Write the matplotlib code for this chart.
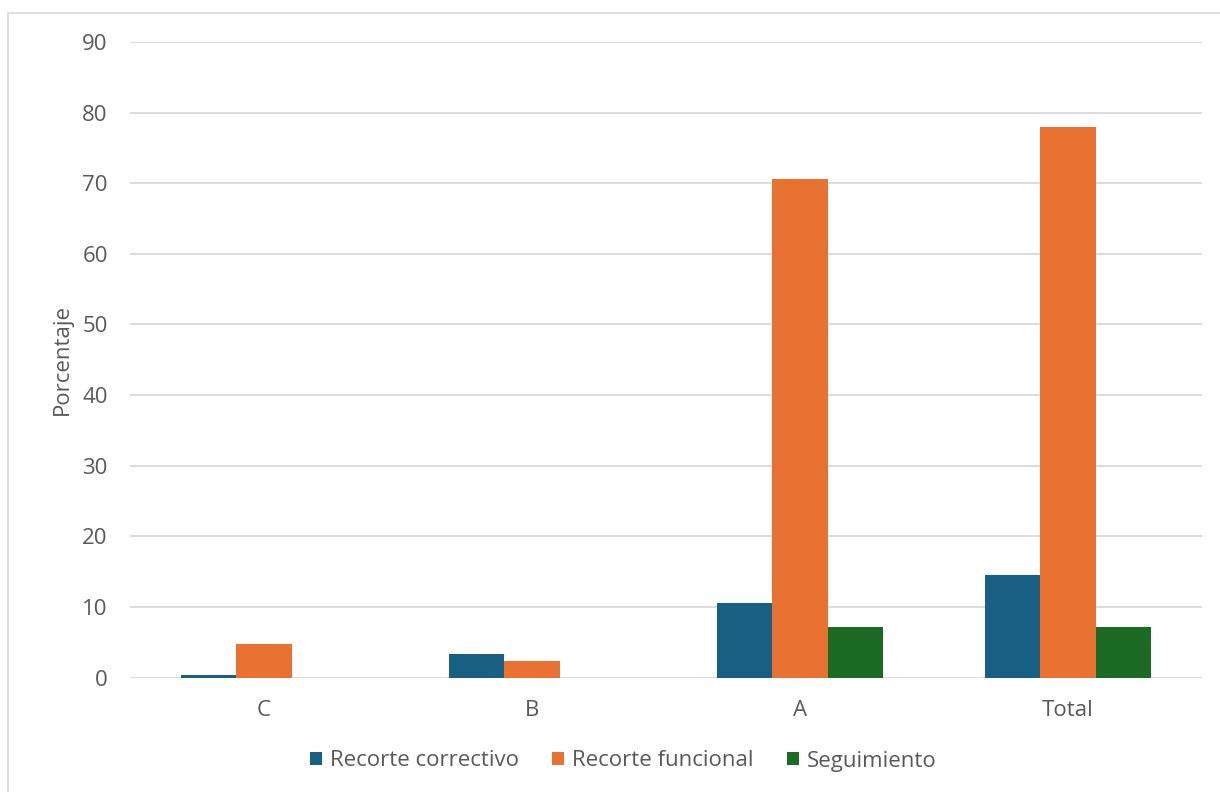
import numpy as np
import matplotlib
matplotlib.use('Agg')
import matplotlib.pyplot as plt
from matplotlib.patches import Rectangle, Patch

categories = ['C', 'B', 'A', 'Total']
correctivo = [0.3, 3.3, 10.6, 14.5]
funcional = [4.8, 2.3, 70.6, 78.0]
seguimiento = [0.0, 0.0, 7.2, 7.2]
series_names = ['Recorte correctivo', 'Recorte funcional', 'Seguimiento']
colors = ['#176084', '#E97132', '#1B6B24']

plt.rcParams['font.family'] = ['Open Sans', 'DejaVu Sans']
txt = '#595959'
fs = 16

W, H = 1220, 792
fig = plt.figure(figsize=(W / 100, H / 100), dpi=100)
ax = fig.add_axes([130 / W, (H - 677.5) / H, 1072 / W, (677.5 - 42) / H])

x = np.arange(len(categories))
bw = 0.207
for i, (vals, c) in enumerate(zip([correctivo, funcional, seguimiento], colors)):
    ax.bar(x + (i - 1) * bw, vals, width=bw, color=c, zorder=3)

ax.set_xlim(-0.5, len(categories) - 0.5)
ax.set_ylim(0, 90)
ax.set_yticks(np.arange(0, 91, 10))
ax.set_xticks(x)
ax.set_xticklabels(categories)
ax.grid(axis='y', color='#D9D9D9', linewidth=1.3, zorder=0)
for s in ax.spines.values():
    s.set_visible(False)
ax.tick_params(length=0, labelsize=fs, colors=txt)
ax.tick_params(axis='y', pad=16)
ax.tick_params(axis='x', pad=16)
ax.set_ylabel('Porcentaje', fontsize=fs, color=txt)
ax.yaxis.set_label_coords(-57 / 1072, 0.5)

# chart border
fig.patches.append(Rectangle((8 / W, -0.1), 1.2, (H - 13) / H + 0.1,
                             transform=fig.transFigure, fill=False,
                             edgecolor='#D9D9D9', linewidth=1.2))

handles = [Patch(facecolor=c, edgecolor='none') for c in colors]
fig.legend(handles, series_names, loc='center', ncol=3,
           bbox_to_anchor=(623 / W, (H - 761) / H), frameon=False,
           fontsize=fs, labelcolor=txt, handlelength=0.55, handleheight=0.55,
           handletextpad=0.35, columnspacing=1.5)

fig.savefig('out.png', dpi=100)
